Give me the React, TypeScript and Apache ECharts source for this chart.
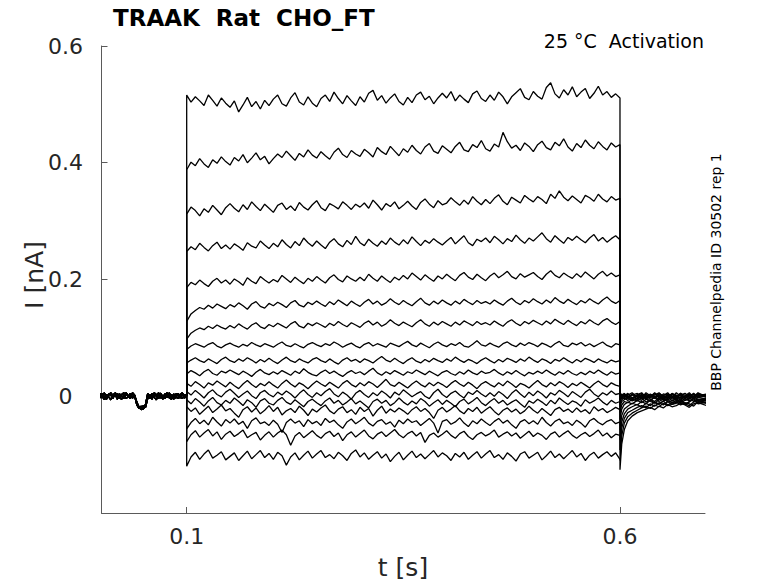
import React, { useEffect, useRef } from "react";
import * as echarts from "echarts";

// Current traces in pA; step period sampled every 5 ms from 0.1 s to 0.6 s (101 samples)
const trace1 = [516, 504, 513, 506, 498, 516, 507, 497, 511, 502, 495, 506, 487, 499, 512, 496, 505, 492, 507, 498, 509, 516, 501, 497, 511, 520, 504, 499, 513, 502, 496, 510, 516, 505, 521, 510, 501, 515, 506, 498, 513, 504, 519, 524, 507, 515, 502, 511, 518, 505, 499, 512, 503, 516, 521, 508, 514, 501, 511, 519, 511, 522, 506, 516, 509, 503, 518, 523, 510, 505, 516, 507, 521, 513, 501, 513, 520, 527, 512, 508, 522, 514, 509, 529, 537, 518, 511, 525, 516, 530, 513, 521, 527, 510, 519, 531, 516, 522, 512, 518, 511];
const trace2 = [388, 401, 395, 407, 398, 392, 405, 399, 410, 402, 396, 409, 403, 414, 400, 408, 417, 405, 411, 398, 407, 415, 409, 420, 412, 404, 416, 410, 422, 413, 408, 419, 412, 406, 418, 425, 414, 409, 421, 415, 411, 423, 417, 410, 426, 419, 414, 428, 420, 412, 424, 418, 430, 421, 415, 427, 433, 420, 416, 429, 423, 417, 428, 435, 422, 419, 431, 426, 438, 424, 420, 432, 427, 452, 436, 425, 430, 421, 434, 428, 419, 431, 437, 426, 422, 435, 429, 441, 427, 420, 433, 426, 439, 430, 424, 436, 428, 422, 434, 427, 431];
const trace3 = [312, 324, 318, 309, 321, 315, 327, 319, 311, 323, 330, 322, 316, 328, 320, 333, 325, 318, 329, 322, 315, 327, 331, 320, 326, 318, 332, 324, 319, 328, 335, 323, 318, 330, 326, 321, 333, 327, 320, 329, 324, 331, 322, 336, 328, 319, 330, 325, 333, 321, 327, 334, 326, 320, 332, 338, 329, 323, 335, 328, 331, 340, 333, 327, 336, 329, 342, 334, 328, 337, 330, 339, 345, 334, 328, 341, 336, 331, 344, 338, 333, 342, 337, 330, 346, 339, 352, 341, 335, 343, 337, 331, 344, 340, 334, 346, 338, 333, 342, 336, 339];
const trace4 = [248, 256, 251, 262, 255, 249, 258, 264, 253, 259, 252, 261, 256, 250, 263, 257, 254, 266, 259, 253, 262, 256, 268, 260, 254, 265, 258, 271, 263, 257, 266, 259, 253, 264, 270, 261, 256, 267, 260, 274, 263, 258, 269, 262, 257, 266, 260, 271, 264, 259, 268, 261, 273, 265, 258, 267, 262, 270, 264, 259, 266, 272, 261, 268, 275, 263, 258, 269, 265, 271, 263, 274, 268, 261, 270, 265, 276, 268, 262, 271, 266, 273, 280, 270, 264, 275, 268, 262, 272, 267, 274, 268, 263, 271, 277, 266, 272, 264, 270, 275, 268];
const trace5 = [186, 195, 191, 199, 193, 188, 197, 202, 194, 199, 192, 201, 196, 190, 203, 197, 193, 205, 199, 194, 200, 196, 207, 201, 195, 204, 198, 193, 202, 197, 205, 199, 194, 203, 208, 200, 196, 206, 201, 197, 204, 198, 209, 202, 197, 206, 200, 195, 204, 199, 207, 201, 211, 205, 199, 208, 202, 197, 206, 201, 209, 203, 198, 207, 212, 204, 200, 209, 203, 198, 206, 211, 203, 208, 214, 205, 201, 210, 204, 208, 212, 205, 200, 209, 215, 207, 203, 211, 206, 202, 210, 204, 213, 207, 201, 209, 214, 206, 211, 205, 208];
const trace6 = [128, 141, 147, 152, 149, 156, 151, 158, 154, 150, 157, 153, 160, 155, 149, 158, 162, 154, 151, 159, 155, 161, 157, 152, 160, 164, 156, 153, 161, 157, 163, 158, 154, 162, 157, 165, 160, 155, 163, 158, 154, 161, 166, 158, 163, 156, 160, 167, 161, 157, 164, 159, 155, 162, 168, 160, 156, 163, 158, 165, 160, 156, 163, 158, 166, 161, 157, 164, 159, 162, 158, 165, 160, 156, 163, 168, 161, 157, 164, 160, 167, 162, 158, 165, 160, 169, 163, 159, 166, 161, 157, 164, 160, 167, 162, 158, 165, 170, 163, 159, 164];
const trace7 = [98, 108, 113, 117, 114, 120, 116, 122, 118, 115, 121, 117, 124, 119, 115, 122, 126, 119, 116, 123, 119, 125, 121, 117, 124, 128, 120, 117, 125, 121, 126, 122, 118, 125, 121, 128, 123, 119, 126, 122, 118, 125, 129, 122, 127, 120, 124, 131, 125, 121, 127, 123, 119, 126, 131, 124, 120, 127, 122, 128, 124, 120, 127, 122, 129, 125, 121, 128, 123, 126, 122, 129, 124, 120, 127, 131, 125, 121, 128, 124, 130, 126, 122, 129, 124, 132, 127, 123, 130, 125, 121, 128, 124, 131, 126, 122, 129, 133, 127, 123, 128];
const trace8 = [80, 86, 90, 87, 84, 89, 92, 86, 83, 88, 91, 87, 84, 89, 86, 92, 88, 85, 90, 87, 84, 89, 93, 87, 85, 90, 86, 83, 89, 92, 88, 85, 90, 87, 93, 89, 84, 88, 91, 86, 83, 89, 92, 86, 90, 87, 84, 91, 88, 85, 90, 94, 88, 85, 91, 87, 83, 89, 93, 88, 85, 90, 87, 92, 86, 84, 89, 95, 88, 86, 91, 87, 84, 90, 93, 88, 85, 91, 87, 92, 89, 85, 91, 88, 84, 90, 94, 87, 85, 91, 88, 92, 86, 90, 85, 89, 93, 87, 84, 90, 88];
const trace9 = [57, 62, 66, 61, 58, 64, 60, 56, 63, 67, 61, 58, 64, 60, 66, 62, 57, 63, 59, 65, 60, 56, 62, 67, 61, 58, 64, 60, 57, 63, 66, 61, 58, 64, 59, 55, 62, 66, 60, 63, 58, 64, 61, 57, 63, 68, 62, 59, 65, 60, 56, 62, 66, 60, 57, 63, 59, 65, 61, 58, 64, 60, 67, 62, 58, 63, 60, 56, 62, 66, 61, 57, 63, 59, 65, 62, 58, 64, 60, 67, 62, 58, 64, 61, 56, 63, 60, 66, 61, 57, 63, 59, 65, 62, 58, 64, 60, 57, 62, 59, 61];
const trace10 = [38, 44, 40, 35, 42, 46, 39, 36, 43, 40, 45, 41, 37, 43, 39, 34, 41, 46, 40, 37, 42, 38, 44, 40, 36, 43, 39, 47, 41, 37, 35, 41, 45, 39, 43, 38, 34, 40, 44, 39, 42, 37, 43, 48, 40, 36, 42, 38, 44, 40, 36, 42, 39, 45, 41, 37, 43, 39, 35, 41, 44, 39, 36, 42, 38, 45, 40, 37, 43, 39, 41, 46, 40, 36, 42, 38, 44, 39, 35, 41, 38, 43, 39, 45, 40, 36, 42, 38, 44, 39, 36, 41, 37, 43, 39, 45, 40, 36, 42, 38, 40];
const trace11 = [22, 17, 25, 20, 14, 23, 19, 26, 21, 16, 24, 18, 13, 21, 27, 20, 15, 22, 18, 25, 19, 14, 22, 28, 21, 16, 23, 19, 13, 20, 26, 21, 17, 24, 19, 14, 22, 27, 20, 16, 23, 18, 25, 21, 15, 22, 29, 20, 17, 24, 19, 14, 21, 26, 20, 16, 23, 18, 24, 20, 15, 22, 27, 21, 17, 24, 19, 13, 21, 25, 20, 16, 23, 18, 26, 21, 15, 22, 19, 14, 21, 27, 20, 16, 23, 18, 25, 21, 15, 22, 18, 24, 19, 14, 21, 26, 20, 16, 23, 19, 17];
const trace12 = [8, 2, 10, 4, -3, 6, 11, 3, -1, 7, 12, 5, -2, 4, 9, 1, -4, 6, 10, 3, -1, 7, 2, 9, 4, -3, 5, 11, 3, -2, 6, 1, 8, 13, 4, -1, 7, 2, -5, 5, 10, 3, -2, 6, 1, 9, 4, -3, 7, 2, 11, 5, -1, 4, 8, 0, -4, 6, 12, 3, -2, 5, 9, 2, -3, 7, 3, 10, 4, -1, 6, 0, 8, 3, -4, 5, 11, 4, -2, 7, 1, 9, 4, -3, 6, 2, 10, 5, -1, 8, 3, -2, 7, 12, 4, -1, 6, 2, 9, 3, 5];
const trace13 = [-6, -13, -4, -10, -17, -8, -2, -11, -15, -7, -12, -3, -9, -16, -6, -11, -19, -8, -4, -12, -15, -7, -2, -10, -14, -6, -12, -18, -9, -5, -11, -16, -8, -3, -12, -7, -15, -10, -4, -13, -8, -14, -20, -9, -5, -12, -7, -16, -11, -3, -10, -15, -8, -13, -4, -9, -17, -11, -6, -14, -7, -12, -18, -9, -5, -13, -8, -2, -11, -16, -9, -4, -12, -7, -15, -10, -6, -13, -19, -8, -12, -5, -10, -16, -7, -13, -3, -9, -14, -8, -11, -17, -6, -12, -8, -3, -10, -15, -7, -12, -9];
const trace14 = [-18, -26, -20, -31, -24, -17, -28, -22, -15, -25, -21, -29, -36, -23, -18, -27, -20, -30, -24, -16, -26, -19, -32, -25, -21, -28, -17, -24, -33, -22, -27, -20, -15, -25, -30, -22, -18, -28, -23, -31, -19, -26, -21, -34, -24, -17, -29, -22, -27, -20, -25, -31, -23, -18, -26, -21, -28, -38, -24, -19, -27, -22, -16, -25, -30, -21, -26, -19, -29, -23, -18, -26, -32, -24, -20, -27, -22, -30, -25, -17, -24, -29, -21, -27, -33, -23, -19, -26, -22, -28, -20, -27, -23, -30, -18, -25, -21, -28, -24, -19, -23];
const trace15 = [-56, -45, -38, -47, -41, -49, -36, -44, -51, -40, -46, -39, -48, -43, -55, -42, -37, -47, -44, -50, -41, -48, -62, -45, -39, -46, -42, -52, -40, -47, -43, -50, -38, -45, -41, -49, -55, -44, -39, -47, -42, -36, -46, -51, -43, -40, -48, -44, -53, -41, -47, -39, -45, -42, -50, -44, -38, -46, -63, -43, -40, -48, -44, -37, -46, -52, -42, -47, -39, -45, -50, -43, -38, -46, -41, -49, -55, -44, -40, -47, -42, -48, -36, -45, -51, -43, -39, -47, -44, -50, -41, -46, -53, -42, -38, -45, -49, -43, -40, -47, -44];
const trace16 = [-78, -66, -59, -70, -63, -57, -68, -61, -74, -65, -60, -69, -64, -58, -71, -66, -62, -75, -67, -61, -70, -63, -58, -66, -84, -68, -62, -71, -65, -59, -67, -72, -64, -60, -69, -63, -76, -66, -61, -70, -64, -58, -68, -73, -65, -61, -69, -63, -57, -66, -71, -64, -60, -68, -62, -79, -67, -63, -70, -65, -59, -67, -72, -64, -60, -69, -74, -66, -62, -68, -64, -58, -70, -65, -61, -68, -63, -72, -66, -60, -69, -63, -67, -74, -65, -61, -70, -64, -59, -67, -72, -66, -62, -69, -64, -58, -68, -63, -71, -65, -67];
const trace17 = [-120, -104, -96, -108, -99, -92, -106, -101, -95, -109, -103, -97, -110, -102, -94, -107, -100, -93, -105, -98, -108, -96, -102, -118, -104, -97, -109, -101, -94, -106, -99, -93, -105, -100, -107, -96, -102, -110, -98, -92, -104, -97, -108, -101, -95, -106, -99, -112, -103, -96, -109, -101, -94, -105, -99, -107, -100, -93, -104, -97, -102, -110, -98, -104, -96, -108, -101, -95, -106, -99, -93, -105, -100, -108, -97, -103, -111, -99, -95, -106, -101, -96, -109, -102, -94, -105, -99, -107, -100, -93, -104, -98, -110, -101, -96, -106, -100, -95, -103, -97, -108];

// Holding period before the step (0 to 0.1 s every 2.5 ms), three overlapping sweeps
const preA = [5, -3, 6, -4, 2, 6, -2, 3, -5, 4, 0, -4, 6, 1, -3, 5, -1, -12, -18, -20, -16, -19, -4, 3, -5, 4, 0, 6, -3, 2, -4, 5, -1, 3, -5, 4, 2, -3, 5, -2, 0];
const preB = [-3, 4, -6, 3, -1, -6, 4, 0, 5, -3, 3, 6, -4, -1, 5, -3, 1, -15, -21, -17, -22, -15, 2, -4, 5, -2, -6, 3, 5, -3, 4, -2, 6, -4, 1, -3, 5, 0, -4, 3, 1];
const preC = [1, 5, -2, -5, 4, 2, -4, 6, 1, -3, -5, 3, 4, -1, -4, 6, 2, -10, -19, -23, -20, -14, 5, 0, -3, 6, 3, -4, 1, -5, 3, 6, -3, -5, 4, 0, -4, 3, 6, -3, 1];

// After the step
const postTimes = [0.6, 0.602, 0.605, 0.609, 0.614, 0.62, 0.625, 0.63, 0.635, 0.64, 0.645, 0.65, 0.655, 0.66, 0.665, 0.67, 0.675, 0.68, 0.685, 0.69, 0.7];
const post1 = [2, -3, 4, 0, -5, 3, 6, -2, 1, -4, 5, 0, -3, 4, 2, -5, 1, 6, -2, 3, 0];
const post2 = [-4, 1, 5, -2, 3, -5, 0, 4, -3, 2, 6, -1, -4, 3, 0, 5, -2, 1, 4, -3, 2];
const post3 = [3, -2, 0, 5, -3, 2, -4, 6, 1, -2, 3, -5, 4, 0, -3, 2, 5, -1, -4, 3, 1];
const post4 = [-1, 4, -3, 2, 6, -2, 3, -5, 0, 4, -1, 2, -4, 5, 1, -3, 0, 4, -2, 6, -1];
const post5 = [0, -4, 3, -1, 2, 5, -3, 1, -2, 6, 0, -4, 3, 1, -5, 4, 2, -2, 5, -1, 3];
const post6 = [-3, 2, -1, 4, -4, 1, 5, -2, 3, -1, -5, 4, 2, -3, 6, 0, -2, 3, -4, 1, 4];
const post7 = [1, -5, 2, -2, 4, -1, -4, 3, 0, 5, -3, 1, 6, -2, 0, 3, -4, 2, -1, 5, -2];
const post8 = [-6, -2, 1, -4, 3, 0, 2, -5, 4, -1, 2, -3, 0, 4, -2, 5, -4, 1, 3, -2, 0];
const post9 = [-12, -6, -3, -7, -2, -5, 1, -4, -8, -1, -6, -3, 2, -5, -2, -7, -1, -4, 0, -6, -3];
const post10 = [-18, -9, -6, -2, -8, -4, -7, 0, -5, -9, -3, -6, -1, -8, -4, -2, -7, -5, 1, -6, -3];
const post11 = [-28, -15, -9, -11, -5, -8, -3, -10, -6, -2, -9, -5, -7, -1, -6, -10, -4, -8, -3, -7, -5];
const post12 = [-40, -22, -14, -10, -13, -7, -11, -5, -9, -12, -6, -3, -10, -8, -4, -11, -7, -2, -9, -6, -8];
const post13 = [-58, -33, -22, -17, -12, -15, -9, -13, -7, -11, -14, -8, -5, -12, -9, -6, -13, -10, -4, -11, -7];
const post14 = [-75, -44, -30, -22, -18, -14, -19, -12, -16, -10, -13, -8, -15, -11, -7, -12, -14, -9, -6, -13, -10];
const post15 = [-92, -55, -38, -28, -24, -19, -16, -20, -13, -17, -11, -15, -9, -14, -12, -8, -13, -16, -10, -7, -12];
const post16 = [-110, -68, -46, -35, -29, -24, -20, -17, -21, -15, -18, -12, -16, -14, -10, -15, -11, -13, -17, -9, -12];
const post17 = [-126, -82, -57, -42, -34, -28, -25, -22, -19, -23, -17, -20, -14, -18, -16, -12, -15, -19, -13, -11, -16];

const xTicks = [0.1, 0.6];
const yTicks = [0, 0.2, 0.4, 0.6];

const steps = [trace1, trace2, trace3, trace4, trace5, trace6, trace7, trace8, trace9, trace10, trace11, trace12, trace13, trace14, trace15, trace16, trace17];
const posts = [post1, post2, post3, post4, post5, post6, post7, post8, post9, post10, post11, post12, post13, post14, post15, post16, post17];
const pres = [preA, preB, preC];

const FONT = "DejaVu Sans";

export default function App() {
  const ref = useRef<HTMLDivElement>(null);
  useEffect(() => {
    if (!ref.current) return;
    const chart = echarts.init(ref.current, null, { renderer: "svg" });
    const series = steps.map((st, i) => {
      const pre = pres[i % 3];
      const data: number[][] = [];
      pre.forEach((v, k) => data.push([k * 0.0025, v / 1000]));
      st.forEach((v, k) => data.push([0.1 + k * 0.005, v / 1000]));
      posts[i].forEach((v, k) => data.push([postTimes[k], v / 1000]));
      return {
        type: "line",
        data,
        showSymbol: false,
        symbol: "none",
        silent: true,
        clip: true,
        lineStyle: { color: "#000", width: 1.3 },
      };
    });
    const axisGray = "#5a5a5a";
    chart.setOption({
      animation: false,
      backgroundColor: "#fff",
      grid: { left: 101.5, right: 73, top: 46, bottom: 70 },
      xAxis: {
        type: "value",
        min: 0.0017,
        max: 0.6981,
        splitLine: { show: false },
        axisLine: { show: true, onZero: false, lineStyle: { color: axisGray, width: 1 } },
        axisTick: { show: true, inside: true, length: 6, customValues: xTicks, lineStyle: { color: axisGray } },
        axisLabel: { customValues: xTicks, fontSize: 22, fontFamily: FONT, color: "#262626", margin: 12 },
      },
      yAxis: {
        type: "value",
        min: -0.2,
        max: 0.6,
        splitLine: { show: false },
        axisLine: { show: true, onZero: false, lineStyle: { color: axisGray, width: 1 } },
        axisTick: { show: true, inside: true, length: 6, customValues: yTicks, lineStyle: { color: axisGray } },
        axisLabel: { customValues: yTicks, fontSize: 22, fontFamily: FONT, color: "#262626", margin: 36, align: "center" },
      },
      graphic: [
        { type: "text", left: 113, top: 6, style: { text: "TRAAK  Rat  CHO_FT", font: `bold 23px '${FONT}'`, fill: "#000" } },
        { type: "text", x: 704, y: 41, style: { text: "25 °C  Activation", font: `19px '${FONT}'`, fill: "#000", textAlign: "right", textVerticalAlign: "middle" } },
        { type: "text", x: 403, y: 567, style: { text: "t [s]", font: `25px '${FONT}'`, fill: "#262626", textAlign: "center", textVerticalAlign: "middle" } },
        { type: "text", x: 34, y: 275, rotation: Math.PI / 2, style: { text: "I [nA]", font: `25px '${FONT}'`, fill: "#262626", textAlign: "center", textVerticalAlign: "middle" } },
        { type: "text", x: 716, y: 272, rotation: Math.PI / 2, style: { text: "BBP Channelpedia ID 30502 rep 1", font: `14px '${FONT}'`, fill: "#000", textAlign: "center", textVerticalAlign: "middle" } },
      ],
      series,
    });
    return () => chart.dispose();
  }, []);
  return <div ref={ref} style={{ position: "fixed", left: 0, top: 0, width: 778, height: 583 }} />;
}
